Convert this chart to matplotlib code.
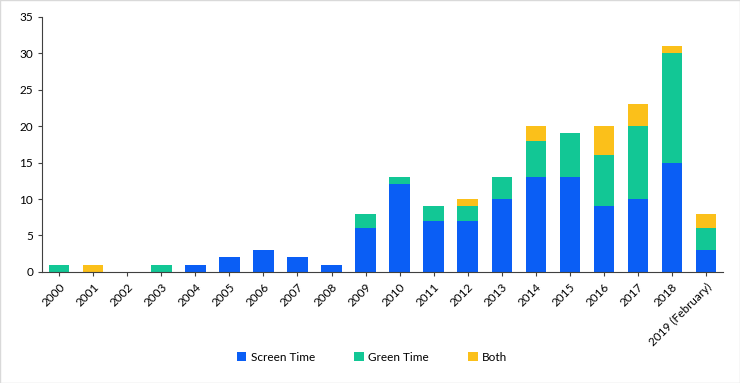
"""
Stacked bar chart: publications per year by topic (Screen Time / Green Time / Both)
"""

import matplotlib.pyplot as plt
import numpy as np

plt.rcParams['font.family'] = ['Lato', 'DejaVu Sans']

years = ['2000', '2001', '2002', '2003', '2004', '2005', '2006', '2007', '2008',
         '2009', '2010', '2011', '2012', '2013', '2014', '2015', '2016', '2017',
         '2018', '2019 (February)']
screen_time = [0, 0, 0, 0, 1, 2, 3, 2, 1, 6, 12, 7, 7, 10, 13, 13, 9, 10, 15, 3]
green_time = [1, 0, 0, 1, 0, 0, 0, 0, 0, 2, 1, 2, 2, 3, 5, 6, 7, 10, 15, 3]
both = [0, 1, 0, 0, 0, 0, 0, 0, 0, 0, 0, 0, 1, 0, 2, 0, 4, 3, 1, 2]


def main():
    fig = plt.figure(figsize=(7.4, 3.83), dpi=100)
    ax = fig.add_axes([0.057, 0.29, 0.92, 0.666])

    x = np.arange(len(years))
    s = np.array(screen_time)
    g = np.array(green_time)
    b = np.array(both)
    w = 0.6

    ax.bar(x, s, w, color='#0A5EF5', label='Screen Time')
    ax.bar(x, g, w, bottom=s, color='#12C795', label='Green Time')
    ax.bar(x, b, w, bottom=s + g, color='#FBC01A', label='Both')

    ax.set_xlim(-0.5, len(years) - 0.5)
    ax.set_ylim(0, 35)
    ax.set_yticks(range(0, 36, 5))
    ax.set_xticks(x)
    ax.set_xticklabels(years, rotation=45, ha='right', rotation_mode='anchor')

    for side in ['top', 'right']:
        ax.spines[side].set_visible(False)
    for side in ['left', 'bottom']:
        ax.spines[side].set_color('#404040')
    ax.tick_params(axis='both', labelsize=8.5, colors='#404040', length=3,
                   labelcolor='black')

    fig.legend(loc='lower center', bbox_to_anchor=(0.503, 0.025), ncol=3,
               frameon=False, fontsize=8.5, handlelength=0.8, handleheight=0.8,
               columnspacing=3.3, handletextpad=0.4)

    # thin grey frame round the picture
    fig.patches.append(plt.Rectangle((0, 0), 1, 1, transform=fig.transFigure,
                                     fill=False, edgecolor='#D9D9D9', lw=1))

    fig.savefig('out.png', dpi=100)


if __name__ == "__main__":
    main()
